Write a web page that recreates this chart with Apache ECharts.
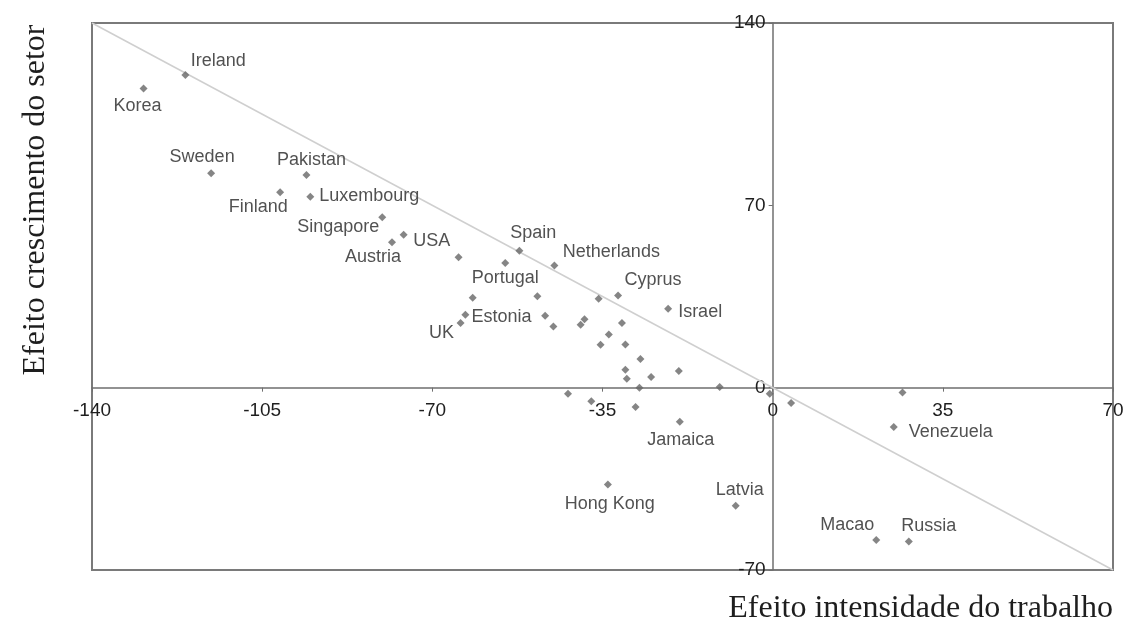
<!DOCTYPE html>
<html>
<head>
<meta charset="utf-8">
<script src="https://cdn.jsdelivr.net/npm/echarts@6/dist/echarts.min.js"></script>
<style>
html,body{margin:0;padding:0;background:#fff;}
#chart{width:1127px;height:623px;}
</style>
</head>
<body>
<div id="chart"></div>
<script>
// ---- Data ----
const countries = ['Ireland','Korea','Sweden','Pakistan','Finland','Luxembourg','Singapore','Austria','USA','',
  'Spain','Portugal','Netherlands','','','','Cyprus','Israel','Estonia','UK',
  '','','','','','','','','','',
  '','','','','','','','','','',
  '','Jamaica','Hong Kong','Latvia','Venezuela','Macao','Russia'];
const laborEffect = [-120.8,-129.4,-115.5,-95.9,-101.3,-95.1,-80.3,-78.3,-75.9,-64.6,
  -52.1,-55.0,-44.9,-61.7,-48.4,-35.8,-31.8,-21.5,-63.2,-64.2,
  -46.8,-45.1,-38.7,-39.5,-31.0,-33.7,-35.4,-30.3,-27.2,-19.3,
  -30.3,-30.0,-25.0,-10.9,-27.4,-42.1,-37.3,-28.2,-0.6,3.8,
  26.7,-19.1,-33.9,-7.6,24.9,21.3,28.0];
const sectorEffect = [120.0,114.9,82.3,81.6,75.0,73.3,65.4,55.8,58.7,50.1,
  52.6,47.9,46.9,34.5,35.1,34.1,35.4,30.3,28.0,24.8,
  27.6,23.5,26.3,24.2,24.8,20.4,16.5,16.6,11.0,6.4,
  6.9,3.4,4.1,0.3,0.0,-2.3,-5.2,-7.4,-2.3,-5.9,
  -1.9,-13.1,-37.2,-45.3,-15.1,-58.5,-59.1];
const refLine = [[-140,140],[70,-70]];
const xTicks = [-140,-105,-70,-35,0,35,70];
const yTicks = [-70,0,70,140];
const xTitle = 'Efeito intensidade do trabalho';
const yTitle = 'Efeito crescimento do setor';

// ---- Label placement (style, separate from data) ----
const labelOffsets = {
  'Ireland':[33,-14],'Korea':[-6,18],'Sweden':[-9,-16],'Pakistan':[5,-15],'Finland':[-22,15],
  'Luxembourg':[59,-1],'Singapore':[-44,10],'USA':[28,6],'Austria':[-19,15],'Spain':[14,-18],
  'Netherlands':[57,-13],'Portugal':[0,15],'Cyprus':[35,-15],'Israel':[32,3],'Estonia':[36,2],
  'UK':[-19,10],'Jamaica':[1,18],'Hong Kong':[2,19],'Latvia':[4,-16],'Venezuela':[57,5],
  'Macao':[-29,-15],'Russia':[20,-16]
};

const pts = countries.map((n,i)=>{
  const item = {name:n, value:[laborEffect[i], sectorEffect[i]]};
  if (n) {
    item.label = {show:true, position:'inside', offset:labelOffsets[n], formatter:n,
      color:'#262626', fontFamily:'Liberation Sans, Arial, sans-serif', fontSize:18};
  }
  return item;
});

const W = 1127, H = 623;
const G = {left:92, right:14, top:23, bottom:53};
const chart = echarts.init(document.getElementById('chart'), null, {renderer:'canvas'});
const axisColor = '#6f6f6f';
const tickFont = {color:'#1e1e1e', fontSize:19, fontFamily:'Liberation Sans, Arial, sans-serif', showMinLabel:true, showMaxLabel:true};
chart.setOption({
  animation:false,
  backgroundColor:'#fff',
  grid:Object.assign({show:true, borderColor:'#7a7a7a', borderWidth:2, backgroundColor:'transparent'}, G),
  xAxis:{
    type:'value', min:-140, max:70, interval:35, position:'bottom', offset:0,
    axisLine:{show:true, onZero:false, lineStyle:{color:axisColor, width:1.5}},
    axisTick:{show:true, length:4, lineStyle:{color:axisColor}},
    splitLine:{show:false},
    axisLabel:Object.assign({customValues:xTicks, margin:14}, tickFont),
  },
  yAxis:{
    type:'value', min:-70, max:140, interval:70, position:'left', offset:0,
    axisLine:{show:true, onZero:false, lineStyle:{color:axisColor, width:1.5}},
    axisTick:{show:true, length:4, lineStyle:{color:axisColor}},
    splitLine:{show:false},
    axisLabel:Object.assign({customValues:yTicks, margin:7}, tickFont),
  },
  graphic:[
    {type:'text', right:14, top:593, style:{text:xTitle, font:'32px "Liberation Serif", "Times New Roman", serif', fill:'#1e1e1e'}},
    {type:'text', x:36, y:200, rotation:Math.PI/2,
      style:{text:yTitle, font:'32px "Liberation Serif", "Times New Roman", serif', fill:'#1e1e1e', align:'center', verticalAlign:'middle'}}
  ],
  series:[
    {type:'line', data:refLine, symbol:'none', silent:true,
      lineStyle:{color:'#cfcfcf', width:1.5}, z:1},
    {type:'scatter', data:pts, symbol:'diamond', symbolSize:8,
      itemStyle:{color:'#666666'}, z:3}
  ]
});
// move axes so they cross at the data origin (0,0)
const zero = chart.convertToPixel({gridIndex:0}, [0,0]);
chart.setOption({
  xAxis:{offset: -((H - G.bottom) - zero[1])},
  yAxis:{offset: -(zero[0] - G.left)}
});
</script>
</body>
</html>
